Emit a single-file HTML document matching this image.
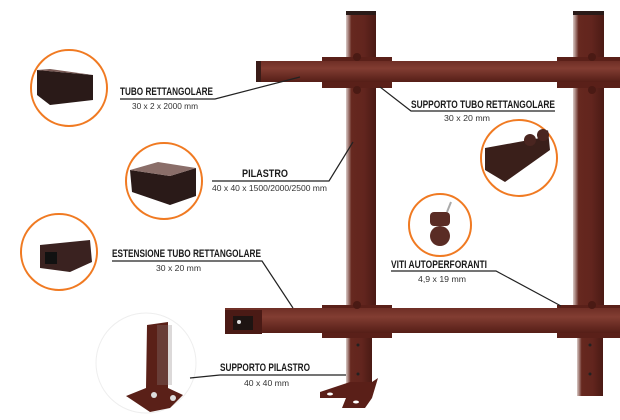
<!DOCTYPE html>
<html><head><meta charset="utf-8"><style>
html,body{margin:0;padding:0;background:#fff;width:620px;height:420px;overflow:hidden}
svg{display:block}
.t{font-family:"Liberation Sans",sans-serif;font-weight:bold;font-size:11px;fill:#1a1a1a}
.s{font-family:"Liberation Sans",sans-serif;font-size:8.5px;fill:#333}
.l{stroke:#222;stroke-width:1.2;fill:none}
</style></head><body>
<svg width="620" height="420" viewBox="0 0 620 420">
<defs>
<linearGradient id="rail" x1="0" y1="0" x2="0" y2="1">
<stop offset="0" stop-color="#6e2e25"/><stop offset="0.35" stop-color="#823d32"/><stop offset="1" stop-color="#551e17"/>
</linearGradient>
<linearGradient id="post" x1="0" y1="0" x2="1" y2="0">
<stop offset="0" stop-color="#d9c9c5"/><stop offset="0.18" stop-color="#66281f"/><stop offset="0.6" stop-color="#62251e"/><stop offset="1" stop-color="#4a1a14"/>
</linearGradient>
</defs>
<rect x="346" y="11" width="30" height="300" fill="url(#post)"/>
<rect x="346" y="11" width="30" height="4" fill="#2a1a18"/>
<rect x="573" y="11" width="31" height="300" fill="url(#post)"/>
<rect x="573" y="11" width="31" height="4" fill="#2a1a18"/>
<rect x="322" y="57" width="70" height="31" fill="#5a2019"/>
<rect x="557" y="57" width="63" height="31" fill="#5a2019"/>
<rect x="256" y="61" width="364" height="21" fill="url(#rail)"/>
<rect x="256" y="61" width="5" height="21" fill="#3a1c18"/>
<circle cx="357" cy="57" r="4" fill="#4a1a14"/><circle cx="357" cy="90" r="4" fill="#4a1a14"/>
<circle cx="592" cy="57" r="4" fill="#4a1a14"/><circle cx="592" cy="90" r="4" fill="#4a1a14"/>
<rect x="322" y="305" width="70" height="33" fill="#5a2019"/>
<rect x="557" y="305" width="63" height="33" fill="#5a2019"/>
<rect x="225" y="308" width="395" height="25" fill="url(#rail)"/>
<rect x="225" y="310" width="37" height="24" fill="#4a1a15"/>
<rect x="233" y="316" width="20" height="14" fill="#1e1412"/>
<circle cx="239" cy="322" r="2" fill="#ddd"/>
<circle cx="357" cy="305" r="4" fill="#4a1a14"/><circle cx="592" cy="305" r="4" fill="#4a1a14"/>
<rect x="346" y="338" width="26" height="48" fill="url(#post)"/>
<rect x="577" y="338" width="26" height="58" fill="url(#post)"/>
<circle cx="358" cy="345" r="1.5" fill="#222"/><circle cx="358" cy="374" r="1.5" fill="#222"/>
<circle cx="590" cy="345" r="1.5" fill="#222"/><circle cx="590" cy="374" r="1.5" fill="#222"/>
<polygon points="320,392 350,382 372,382 378,378 372,398 365,408 342,408 346,398 320,398" fill="#5a1f18"/>
<ellipse cx="330" cy="394" rx="3" ry="1.5" fill="#fff"/><ellipse cx="356" cy="402" rx="3" ry="1.5" fill="#fff"/>
<g fill="none" stroke="#f07a22" stroke-width="2">
<circle cx="69" cy="88" r="38"/>
<circle cx="164" cy="181" r="38"/>
<circle cx="59" cy="252" r="38"/>
<circle cx="519" cy="158" r="38"/>
<circle cx="440" cy="225" r="31"/>
</g>
<circle cx="146" cy="363" r="50" fill="none" stroke="#eee" stroke-width="1"/>
<polygon points="37,70 93,75 93,100 50,105 37,95" fill="#2a1a18"/>
<polygon points="37,70 82,74 93,75 50,69" fill="#7a5a55"/>
<polygon points="130,170 170,176 196,168 196,196 170,205 132,192" fill="#2a1a18"/>
<polygon points="130,170 158,162 196,168 170,176" fill="#8a6e69"/>
<polygon points="40,245 90,240 92,262 70,272 40,268" fill="#3a2220"/>
<rect x="45" y="252" width="12" height="12" fill="#111"/>
<polygon points="485,148 540,138 548,130 550,150 505,182 485,170" fill="#3a1f1a"/>
<circle cx="530" cy="140" r="6" fill="#4a2520"/><circle cx="543" cy="135" r="6" fill="#4a2520"/>
<rect x="430" y="212" width="20" height="14" rx="4" fill="#5a2c25"/>
<circle cx="440" cy="236" r="10" fill="#5a2c25"/>
<line x1="447" y1="212" x2="451" y2="202" stroke="#aaa" stroke-width="2"/>
<polygon points="147,325 168,322 168,388 183,395 170,408 150,412 126,396 146,388" fill="#5a2018"/>
<rect x="157" y="325" width="15" height="60" fill="#8a8080" opacity="0.3"/>
<circle cx="154" cy="395" r="3" fill="#ddd"/><circle cx="173" cy="398" r="3" fill="#ddd"/>

<text class="t" x="120" y="95" textLength="93" lengthAdjust="spacingAndGlyphs">TUBO RETTANGOLARE</text>
<path class="l" d="M120 99 H215 L300 77"/>
<text class="s" x="132" y="109" textLength="66" lengthAdjust="spacingAndGlyphs">30 x 2 x 2000 mm</text>

<text class="t" x="411" y="108" textLength="144" lengthAdjust="spacingAndGlyphs">SUPPORTO TUBO RETTANGOLARE</text>
<path class="l" d="M555 111 H411 L380 87"/>
<text class="s" x="444" y="121" textLength="46" lengthAdjust="spacingAndGlyphs">30 x 20 mm</text>

<text class="t" x="242" y="177" textLength="46" lengthAdjust="spacingAndGlyphs">PILASTRO</text>
<path class="l" d="M212 181 H329 L353 142"/>
<text class="s" x="212" y="191" textLength="115" lengthAdjust="spacingAndGlyphs">40 x 40 x 1500/2000/2500 mm</text>

<text class="t" x="112" y="257" textLength="149" lengthAdjust="spacingAndGlyphs">ESTENSIONE TUBO RETTANGOLARE</text>
<path class="l" d="M112 261 H262 L293 308"/>
<text class="s" x="156" y="271" textLength="45" lengthAdjust="spacingAndGlyphs">30 x 20 mm</text>

<text class="t" x="391" y="268" textLength="96" lengthAdjust="spacingAndGlyphs">VITI AUTOPERFORANTI</text>
<path class="l" d="M391 271 H496 L561 306"/>
<text class="s" x="418" y="282" textLength="48" lengthAdjust="spacingAndGlyphs">4,9 x 19 mm</text>

<text class="t" x="220" y="371" textLength="90" lengthAdjust="spacingAndGlyphs">SUPPORTO PILASTRO</text>
<path class="l" d="M220 375 H346"/>
<path class="l" d="M190 378 L220 375"/>
<text class="s" x="244" y="386" textLength="45" lengthAdjust="spacingAndGlyphs">40 x 40 mm</text>
</svg>
</body></html>
